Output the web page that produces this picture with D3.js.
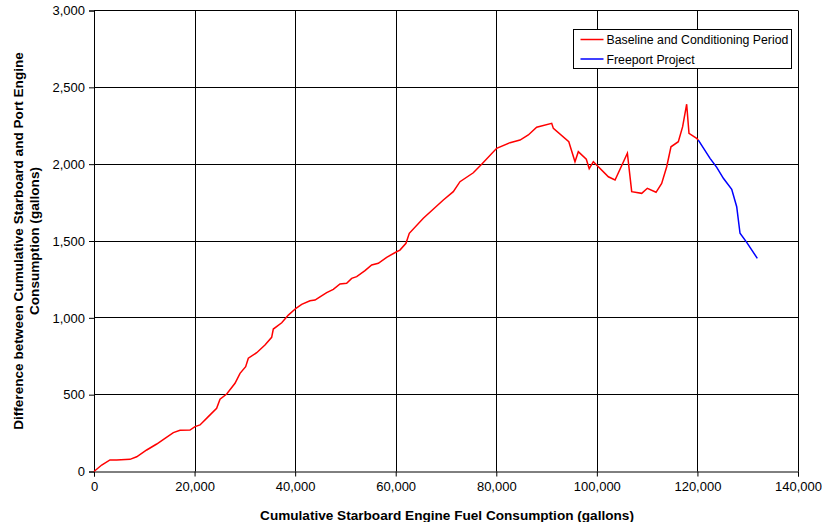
<!DOCTYPE html>
<html>
<head>
<meta charset="utf-8">
<script src="https://cdn.jsdelivr.net/npm/d3@7/dist/d3.min.js"></script>
<style>
  body { margin: 0; background: #fff; }
  text { font-family: "Liberation Sans", Arial, sans-serif; }
</style>
</head>
<body>
<div class="canvas"></div>
<script>
// series: [cumulative starboard gallons, difference gallons]
const baseline = [
  [0, 0], [1530, 42], [3180, 75], [4510, 75], [7160, 79], [8490, 96], [10480, 140],
  [12470, 179], [14120, 216], [15780, 253], [17100, 268], [19090, 270], [20090, 292],
  [21080, 303], [22730, 357], [24390, 411], [25060, 470], [26390, 504], [28040, 574],
  [29040, 639], [30160, 682], [30690, 737], [32350, 773], [34000, 823], [35330, 873],
  [35660, 927], [37330, 968], [38650, 1018], [40170, 1062], [41300, 1088], [42950, 1111],
  [43950, 1116], [44940, 1137], [46270, 1164], [47590, 1185], [48920, 1220], [50240, 1225],
  [51240, 1257], [52240, 1268], [53890, 1307], [55220, 1344], [56540, 1355], [58200, 1394],
  [60180, 1430], [60840, 1441], [62040, 1485], [62700, 1550], [65490, 1648], [69470, 1767],
  [71450, 1821], [72780, 1886], [75430, 1944], [77090, 2000], [80070, 2103], [82730, 2140],
  [84720, 2157], [86370, 2190], [88030, 2240], [91020, 2266], [91350, 2233], [94420, 2146],
  [95650, 2016], [96310, 2081], [97900, 2032], [98480, 1971], [99300, 2016], [102290, 1918],
  [103620, 1897], [106070, 2071], [106930, 1821], [108920, 1810], [110040, 1843],
  [111770, 1817], [112890, 1875], [113890, 1983], [114740, 2113], [116200, 2146],
  [117060, 2244], [117860, 2390], [118320, 2201], [119850, 2168], [120180, 2157]
];
const freeport = [
  [120180, 2157], [122510, 2038], [123840, 1979], [125160, 1908], [126820, 1836],
  [127810, 1723], [128470, 1550], [129800, 1491], [131910, 1387]
];
const xTicks = [0, 20000, 40000, 60000, 80000, 100000, 120000, 140000];
const yTicks = [0, 500, 1000, 1500, 2000, 2500, 3000];
const legendItems = [
  { name: 'Baseline and Conditioning Period', color: '#ff0000' },
  { name: 'Freeport Project', color: '#0000ff' }
];

const margin = { top: 10.5, right: 24, bottom: 50.5, left: 94 };
const width = 822, height = 522;
const graphWidth = width - margin.left - margin.right;
const graphHeight = height - margin.top - margin.bottom;

const svg = d3.select('.canvas')
  .append('svg')
   .attr('width', width)
   .attr('height', height);

const graph = svg.append('g')
  .attr('transform', `translate(${margin.left}, ${margin.top})`);

const x = d3.scaleLinear().domain([0, 140000]).range([0, graphWidth]);
const y = d3.scaleLinear().domain([0, 3000]).range([graphHeight, 0]);
const fmt = d3.format(',');

// grid
graph.append('g')
  .selectAll('line')
  .data(xTicks.slice(1))
  .enter().append('line')
   .attr('x1', d => Math.round(x(d)) + 0.5).attr('x2', d => Math.round(x(d)) + 0.5)
   .attr('y1', 0).attr('y2', graphHeight)
   .attr('stroke', '#000');
graph.append('g')
  .selectAll('line')
  .data(yTicks.slice(1))
  .enter().append('line')
   .attr('y1', d => Math.round(y(d))).attr('y2', d => Math.round(y(d)))
   .attr('x1', 0).attr('x2', graphWidth)
   .attr('stroke', '#000');

// axes
const xAxisGroup = graph.append('g')
  .attr('transform', `translate(0, ${graphHeight})`)
  .call(d3.axisBottom(x).tickValues(xTicks).tickFormat(fmt).tickSizeOuter(0).tickSize(5).tickPadding(5));
const yAxisGroup = graph.append('g')
  .call(d3.axisLeft(y).tickValues(yTicks).tickFormat(fmt).tickSizeOuter(0).tickSize(5).tickPadding(4));

[xAxisGroup, yAxisGroup].forEach(g => {
  g.selectAll('path, line').attr('stroke', '#000');
  g.selectAll('text')
   .style('font-size', '13px')
   .attr('fill', '#000');
});

// lines
const line = d3.line().x(d => x(d[0])).y(d => y(d[1]));
graph.append('path')
  .datum(baseline)
  .attr('d', line)
  .attr('fill', 'none')
  .attr('stroke', '#ff0000')
  .attr('stroke-width', 1.5);
graph.append('path')
  .datum(freeport)
  .attr('d', line)
  .attr('fill', 'none')
  .attr('stroke', '#0000ff')
  .attr('stroke-width', 1.5);

// legend
const legend = svg.append('g').attr('transform', 'translate(573.5, 29.5)');
legend.append('rect')
  .attr('width', 218).attr('height', 39)
  .attr('fill', '#fff').attr('stroke', '#000');
legendItems.forEach((item, i) => {
  const row = legend.append('g').attr('transform', `translate(0, ${10 + i * 19.5})`);
  row.append('line')
   .attr('x1', 7).attr('x2', 30)
   .attr('stroke', item.color).attr('stroke-width', 1.5);
  row.append('text')
   .attr('x', 33).attr('y', 4.5)
   .style('font-size', '12.3px')
   .text(item.name);
});

// titles
svg.append('text')
  .attr('x', 447)
  .attr('y', 519.5)
  .attr('text-anchor', 'middle')
  .style('font-size', '13.6px')
  .style('font-weight', 'bold')
  .text('Cumulative Starboard Engine Fuel Consumption (gallons)');

const yTitle = svg.append('text')
  .attr('transform', `translate(23, ${margin.top + graphHeight / 2}) rotate(-90)`)
  .attr('text-anchor', 'middle')
  .style('font-size', '13.6px')
  .style('font-weight', 'bold');
yTitle.append('tspan').attr('x', 0).attr('y', 0)
  .text('Difference between Cumulative Starboard and Port Engine');
yTitle.append('tspan').attr('x', 0).attr('y', 15.5)
  .text('Consumption (gallons)');
</script>
</body>
</html>
